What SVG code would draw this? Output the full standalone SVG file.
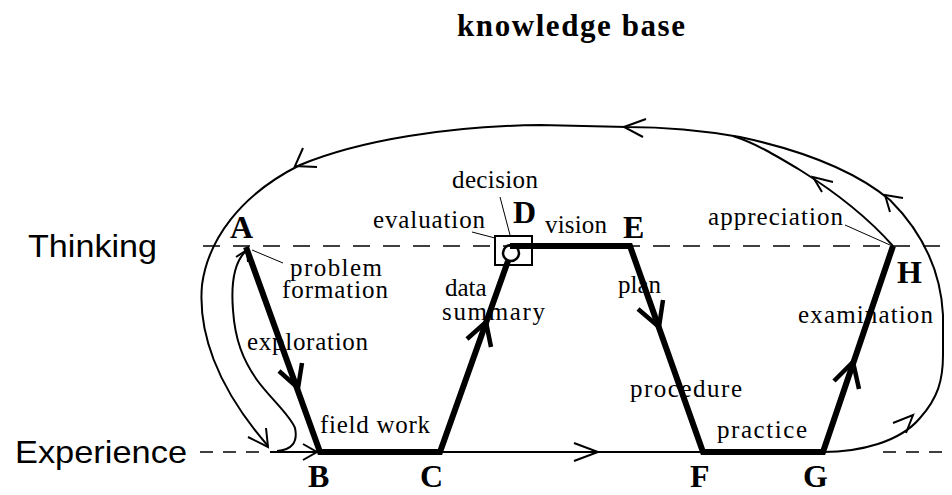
<svg xmlns="http://www.w3.org/2000/svg" width="952" height="495" viewBox="0 0 952 495">
<style>
.bg{fill:#fff}
.s{font-family:"Liberation Serif","Times New Roman",serif;font-size:25px;fill:#000}
.b{font-family:"Liberation Serif","Times New Roman",serif;font-size:32px;font-weight:bold;fill:#000}
.t{font-family:"Liberation Serif","Times New Roman",serif;font-size:31px;font-weight:bold;fill:#000}
.ss{font-family:"Liberation Sans",Arial,sans-serif;font-size:32px;fill:#000}
.thin{fill:none;stroke:#000;stroke-width:2}
.thick{fill:none;stroke:#000;stroke-width:6;stroke-linejoin:miter}
.ah{fill:none;stroke:#000;stroke-width:2;stroke-linejoin:miter}
.ahk{fill:none;stroke:#000;stroke-width:4.5;stroke-linejoin:miter}
.lead{fill:none;stroke:#000;stroke-width:1}
.dash{fill:none;stroke:#000;stroke-width:1.5;stroke-dasharray:17 13}
.dash2{fill:none;stroke:#000;stroke-width:1.5;stroke-dasharray:13 10}
</style>
<rect class="bg" x="0" y="0" width="952" height="495"/>
<text class="t" x="457" y="36" textLength="228" lengthAdjust="spacing">knowledge  base</text>
<g id="axes">
<text class="ss" x="28" y="257" textLength="129" lengthAdjust="spacingAndGlyphs">Thinking</text>
<text class="ss" x="15" y="463" textLength="172" lengthAdjust="spacingAndGlyphs">Experience</text>
<line class="dash" x1="203" y1="246" x2="952" y2="246"/>
<line class="dash2" x1="200" y1="452" x2="268" y2="452"/>
<line class="dash2" x1="883" y1="452" x2="952" y2="452"/>
</g>
<g id="connectors">
<path class="thin" d="M823 452 C860 452 900 442 920 418 C938 398 943 380 943 355 L943 315 C941 275 925 235 890 200 C860 175 810 152 740 137 C700 130 660 127 627 127 L540 125 C450 126 360 140 300 165 C240 195 208 240 202 285 C198 330 215 385 268 446"/>
<path class="thin" d="M893 246 C870 220 840 195 800 170 C775 155 755 143 733 136"/>
<path class="thin" d="M277 451 C292 450 298 442 295 428 C290 415 270 398 257 380 C243 360 235 340 233 310 C231 285 233 262 247 250"/>
<line class="thin" x1="270" y1="452" x2="318" y2="452"/>
<line class="thin" x1="440" y1="452" x2="703" y2="452"/>
<path class="thick" d="M246 247 L320 452 L440 452 L508 261"/>
<path class="thick" d="M510 246 L630 246 L703 452 L823 452 L893 246"/>
<polyline class="ahk" points="279,371 298,388 302,363"/>
<polyline class="ahk" points="467,339 486,322 491,347"/>
<polyline class="ahk" points="638,309 659,327 663,300"/>
<polyline class="ahk" points="834,381 853,362 859,389"/>
<polyline class="ah" points="574,443 598,452 574,461"/>
<polyline class="ah" points="303,444 317,452 303,460"/>
<polyline class="ah" points="893,423 913,415 906,433"/>
<polyline class="ah" points="903,198 885,195 890,212"/>
<polyline class="ah" points="833,182 813,177 822,192"/>
<polyline class="ah" points="646,119 624,127 643,137"/>
<polyline class="ah" points="303,148 295,166 317,167"/>
<polyline class="ah" points="248,437 268,447 266,428"/>
<polyline class="ah" points="236,257 247,250 248,262"/>
<line class="lead" x1="252" y1="250" x2="283" y2="263"/>
<line class="lead" x1="472" y1="232" x2="495" y2="238"/>
<line class="lead" x1="500" y1="197" x2="510" y2="235"/>
<line class="lead" x1="845" y1="225" x2="890" y2="245"/>
</g>
<g id="node-A">
<text class="b" x="230" y="238">A</text>
<text class="s" x="290" y="276" textLength="92" lengthAdjust="spacing">problem</text>
<text class="s" x="282" y="298" textLength="106" lengthAdjust="spacing">formation</text>
</g>
<g id="node-B">
<text class="b" x="308" y="487">B</text>
<text class="s" x="247" y="350" textLength="121" lengthAdjust="spacing">exploration</text>
<text class="s" x="320" y="433" textLength="110" lengthAdjust="spacing">field work</text>
</g>
<g id="node-C">
<text class="b" x="420" y="487">C</text>
<text class="s" x="445" y="296">data</text>
<text class="s" x="442" y="320" textLength="103" lengthAdjust="spacing">summary</text>
</g>
<g id="node-D">
<rect x="495" y="236" width="37" height="29" fill="none" stroke="#000" stroke-width="2"/>
<circle cx="511" cy="253" r="8" fill="none" stroke="#000" stroke-width="2.5"/>
<text class="b" x="513" y="223">D</text>
<text class="s" x="452" y="188" textLength="86" lengthAdjust="spacing">decision</text>
<text class="s" x="373" y="228" textLength="112" lengthAdjust="spacing">evaluation</text>
<text class="s" x="545" y="233" textLength="62" lengthAdjust="spacing">vision</text>
</g>
<g id="node-E">
<text class="b" x="623" y="238">E</text>
<text class="s" x="618" y="293">plan</text>
</g>
<g id="node-F">
<text class="b" x="690" y="487">F</text>
<text class="s" x="630" y="397" textLength="112" lengthAdjust="spacing">procedure</text>
</g>
<g id="node-G">
<text class="b" x="803" y="487">G</text>
<text class="s" x="717" y="438" textLength="90" lengthAdjust="spacing">practice</text>
</g>
<g id="node-H">
<text class="b" x="897" y="283">H</text>
<text class="s" x="798" y="323" textLength="135" lengthAdjust="spacing">examination</text>
<text class="s" x="708" y="225" textLength="135" lengthAdjust="spacing">appreciation</text>
</g>
</svg>
